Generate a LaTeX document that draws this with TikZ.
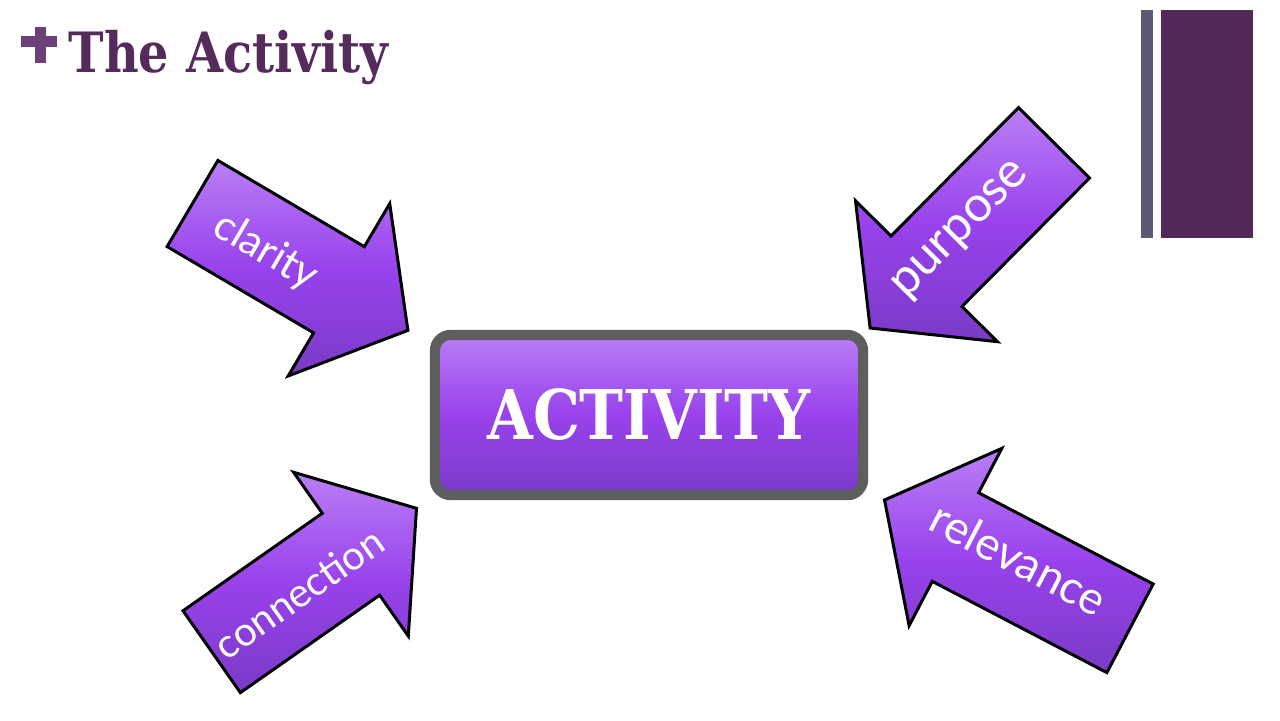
\documentclass[tikz,border=0pt]{standalone}
\usepackage{fontspec}
\setmainfont{DejaVu Serif}
\newfontfamily\titlefont[FakeStretch=0.86]{DejaVu Serif}
\newfontfamily\labelfont{Lato}
\usetikzlibrary{shadows}
\definecolor{actTitle}{HTML}{552A5D}
\definecolor{actPlus}{HTML}{6E4079}
\definecolor{actBar}{HTML}{5E5876}
\definecolor{actBand}{HTML}{55285A}
\definecolor{actLight}{HTML}{BA7EF6}
\definecolor{actMid}{HTML}{9842EC}
\definecolor{actDark}{HTML}{7A3AC6}
\definecolor{actEdge}{HTML}{5E5E5E}

\tikzset{
  pics/inarrow/.style 2 args={code={
    \path[arrowbody, rotate=#2]
      (0,50) -- ({#1-80},50) -- ({#1-80},100) -- (#1,0) -- ({#1-80},-100) -- ({#1-80},-50) -- (0,-50) -- cycle;
  }},
}

\begin{document}
\begin{tikzpicture}[
  x=0.01cm, y=0.01cm,
  every node/.style={inner sep=0pt},
  box/.style={draw=actEdge, line width=2.9pt, rounded corners=4.5pt, minimum width=4.28cm, minimum height=1.6cm,
    top color=actLight, bottom color=actDark, middle color=actMid,
    drop shadow={shadow xshift=0.6pt, shadow yshift=-1.4pt, opacity=0.35, fill=black},
    text=white, font=\titlefont\bfseries\fontsize{19.5}{20}\selectfont},
  arrowbody/.style={draw=black, line width=0.85pt, top color=actLight, bottom color=actDark, middle color=actMid},
  tag/.style={text=white, font=\labelfont\fontsize{#1}{#1}\selectfont},
  tag/.default=12,
]
  \fill[white] (0,0) rectangle (1280,720);
  \useasboundingbox (0,0) rectangle (1280,720);

  % title and side bars
  \draw[actPlus, line width=3pt] (20.7,678.3) -- (57.3,678.3) (40.5,692.7) -- (40.5,656.7);
  \node[anchor=base west, text=actTitle, font=\titlefont\bfseries\fontsize{15.8}{16}\selectfont] (title) at (68,648) {The Activity};
  \fill[actBar] (1141,710) rectangle (1153,482);
  \fill[actBand] (1161,710) rectangle (1253,482);

  % centre
  \node[box] (activity) at (649,305) {ACTIVITY};

  % arrows
  \pic at (192.5,516.5) {inarrow={250}{-30.5}};
  \pic at (1054,577.2) {inarrow={261}{225.2}};
  \pic at (211.7,68.3) {inarrow={250}{35}};
  \pic at (1130,91.7) {inarrow={277}{152.4}};

  \node[tag, rotate=-30.5] (clarity) at (265.7,468.3) {clarity};
  \node[tag=14, rotate=45.2] (purpose) at (962,489) {purpose};
  \node[tag=11.4, rotate=35] (connection) at (299,127) {connection};
  \node[tag=13, rotate=-27.6] (relevance) at (1019,161.7) {relevance};
\end{tikzpicture}
\end{document}
